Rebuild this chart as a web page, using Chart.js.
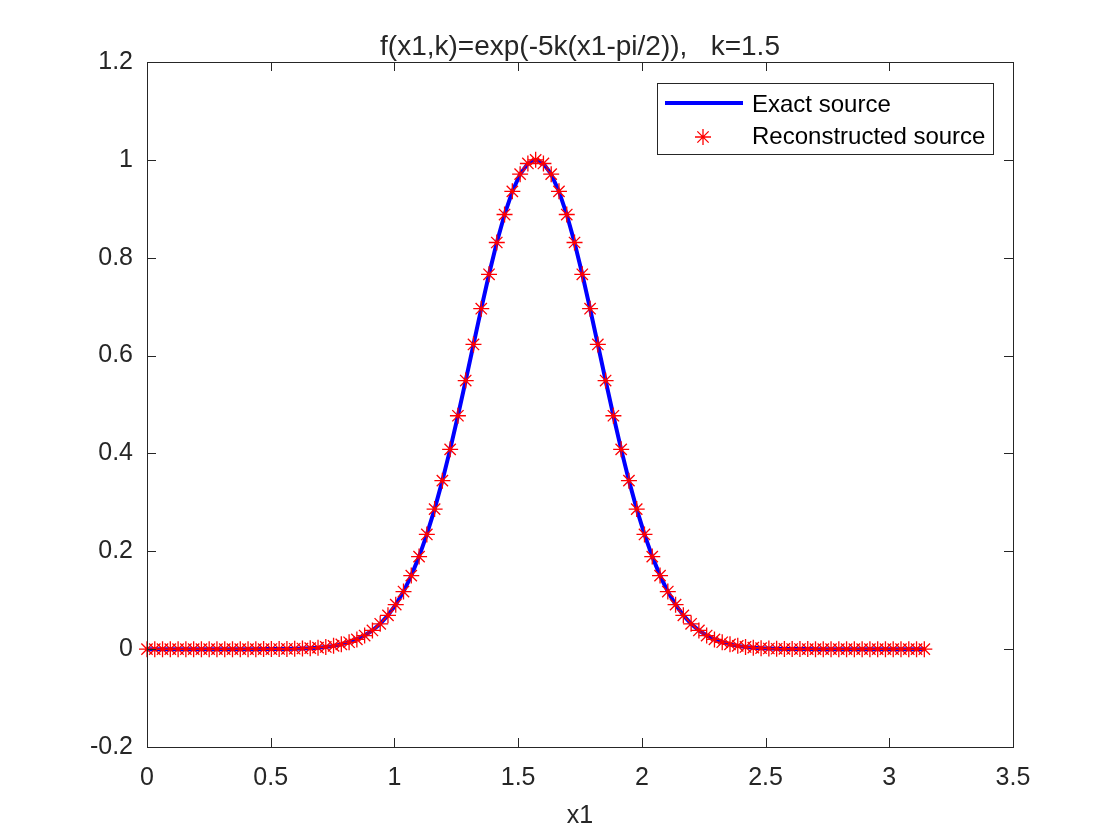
<!DOCTYPE html>
<html>
<head>
<meta charset="utf-8">
<script src="https://cdn.jsdelivr.net/npm/chart.js@4/dist/chart.umd.min.js"></script>
<style>
  html, body { margin: 0; padding: 0; background: #fff; }
  .chart_container { width: 1120px; height: 840px; }
</style>
</head>
<body>
<div class="chart_container"><canvas id="sourceChart"></canvas></div>
<script>
const titleText = "f(x1,k)=exp(-5k(x1-pi/2)),   k=1.5";

// x1 grid, 0..pi
const x1 = [
  0, 0.0314, 0.0628, 0.0942, 0.1257, 0.1571, 0.1885, 0.2199, 0.2513, 0.2827,
  0.3142, 0.3456, 0.3770, 0.4084, 0.4398, 0.4712, 0.5027, 0.5341, 0.5655, 0.5969,
  0.6283, 0.6597, 0.6912, 0.7226, 0.7540, 0.7854, 0.8168, 0.8482, 0.8796, 0.9111,
  0.9425, 0.9739, 1.0053, 1.0367, 1.0681, 1.0996, 1.1310, 1.1624, 1.1938, 1.2252,
  1.2566, 1.2881, 1.3195, 1.3509, 1.3823, 1.4137, 1.4451, 1.4765, 1.5080, 1.5394,
  1.5708, 1.6022, 1.6336, 1.6650, 1.6965, 1.7279, 1.7593, 1.7907, 1.8221, 1.8535,
  1.8850, 1.9164, 1.9478, 1.9792, 2.0106, 2.0420, 2.0735, 2.1049, 2.1363, 2.1677,
  2.1991, 2.2305, 2.2619, 2.2934, 2.3248, 2.3562, 2.3876, 2.4190, 2.4504, 2.4819,
  2.5133, 2.5447, 2.5761, 2.6075, 2.6389, 2.6704, 2.7018, 2.7332, 2.7646, 2.7960,
  2.8274, 2.8588, 2.8903, 2.9217, 2.9531, 2.9845, 3.0159, 3.0473, 3.0788, 3.1102,
  3.1416
];

const exactSource = [
  0, 0, 0, 0, 0, 0, 0, 0, 0, 0,
  0, 0, 0, 0, 0, 0.0001, 0.0002, 0.0003, 0.0005, 0.0008,
  0.0013, 0.0020, 0.0030, 0.0045, 0.0067, 0.0098, 0.0141, 0.0199, 0.0278, 0.0382,
  0.0518, 0.0691, 0.0909, 0.1177, 0.1503, 0.1891, 0.2344, 0.2862, 0.3444, 0.4083,
  0.4770, 0.5490, 0.6227, 0.6958, 0.7661, 0.8311, 0.8883, 0.9356, 0.9708, 0.9926,
  1,
  0.9926, 0.9708, 0.9356, 0.8883, 0.8311, 0.7661, 0.6958, 0.6227, 0.5490, 0.4770,
  0.4083, 0.3444, 0.2862, 0.2344, 0.1891, 0.1503, 0.1177, 0.0909, 0.0691, 0.0518,
  0.0382, 0.0278, 0.0199, 0.0141, 0.0098, 0.0067, 0.0045, 0.0030, 0.0020, 0.0013,
  0.0008, 0.0005, 0.0003, 0.0002, 0.0001, 0, 0, 0, 0, 0,
  0, 0, 0, 0, 0, 0, 0, 0, 0, 0
];

// reconstruction sits on the exact curve
const reconstructedSource = exactSource.slice();

const xTicks = [0, 0.5, 1, 1.5, 2, 2.5, 3, 3.5];
const yTicks = [-0.2, 0, 0.2, 0.4, 0.6, 0.8, 1, 1.2];

const fontFamily = "'Liberation Sans', Arial, Helvetica, sans-serif";
const axisColor = "#262626";

const toPoints = (xs, ys) => xs.map((x, i) => ({ x: x, y: ys[i] }));

// box, inward ticks, title and legend like a matlab figure
const matlabAxes = {
    id: "matlabAxes",
    afterDraw(chart) {
        const ctx = chart.ctx;
        const area = chart.chartArea;
        const xs = chart.scales.x;
        const ys = chart.scales.y;
        const tick = 9;

        ctx.save();
        ctx.strokeStyle = axisColor;
        ctx.lineWidth = 1;
        ctx.strokeRect(area.left + 0.5, area.top + 0.5, area.right - area.left, area.bottom - area.top);

        ctx.beginPath();
        xTicks.forEach((v) => {
            const px = Math.round(xs.getPixelForValue(v)) + 0.5;
            ctx.moveTo(px, area.bottom);
            ctx.lineTo(px, area.bottom - tick);
            ctx.moveTo(px, area.top);
            ctx.lineTo(px, area.top + tick);
        });
        yTicks.forEach((v) => {
            const py = Math.round(ys.getPixelForValue(v)) + 0.5;
            ctx.moveTo(area.left, py);
            ctx.lineTo(area.left + tick, py);
            ctx.moveTo(area.right, py);
            ctx.lineTo(area.right - tick, py);
        });
        ctx.stroke();

        // title
        ctx.fillStyle = axisColor;
        ctx.font = "28px " + fontFamily;
        ctx.textAlign = "center";
        ctx.textBaseline = "alphabetic";
        ctx.fillText(titleText, (area.left + area.right) / 2, 55);

        // legend
        const box = { left: 657, top: 83, right: 993, bottom: 154 };
        ctx.fillStyle = "#fff";
        ctx.fillRect(box.left, box.top, box.right - box.left, box.bottom - box.top);
        ctx.strokeStyle = axisColor;
        ctx.strokeRect(box.left + 0.5, box.top + 0.5, box.right - box.left, box.bottom - box.top);

        const ds = chart.data.datasets;
        const lineDs = ds[1];
        const markDs = ds[0];
        ctx.font = "24px " + fontFamily;
        ctx.textAlign = "left";
        ctx.textBaseline = "middle";

        ctx.strokeStyle = lineDs.borderColor;
        ctx.lineWidth = lineDs.borderWidth;
        ctx.beginPath();
        ctx.moveTo(665, 103);
        ctx.lineTo(743, 103);
        ctx.stroke();
        ctx.fillStyle = "#000";
        ctx.fillText(lineDs.label, 752, 105);

        ctx.strokeStyle = markDs.pointBorderColor;
        ctx.fillStyle = markDs.pointBackgroundColor;
        ctx.lineWidth = markDs.pointBorderWidth;
        Chart.helpers.drawPoint(ctx, {
            pointStyle: "star",
            radius: markDs.pointRadius,
            borderWidth: markDs.pointBorderWidth,
            rotation: 0
        }, 703, 137);
        ctx.fillStyle = "#000";
        ctx.fillText(markDs.label, 752, 137);
        ctx.restore();
    }
};

const data = {
    datasets: [
        {
            label: "Reconstructed source",
            data: toPoints(x1, reconstructedSource),
            showLine: false,
            pointStyle: "star",
            pointRadius: 8,
            pointBorderWidth: 1.3,
            pointBorderColor: "#ff0000",
            pointBackgroundColor: "#ff0000",
            clip: false,
            order: 0,
        },
        {
            label: "Exact source",
            data: toPoints(x1, exactSource),
            showLine: true,
            borderColor: "#0000ff",
            borderWidth: 4,
            pointRadius: 0,
            tension: 0,
            order: 1,
        },
    ],
};

const fmt = (v) => Number(v.toFixed(2)).toString();

const sourceChart = new Chart("sourceChart", {
    type: "scatter",
    data: data,
    plugins: [matlabAxes],
    options: {
        responsive: true,
        maintainAspectRatio: false,
        animation: false,
        layout: { padding: { top: 62, right: 107, left: 0, bottom: 0 } },
        plugins: {
            legend: { display: false },
            title: { display: false },
            tooltip: { enabled: false },
        },
        scales: {
            x: {
                type: "linear",
                min: 0,
                max: 3.5,
                afterFit: (scale) => { scale.height = 93; },
                grid: { display: false, drawTicks: false },
                border: { display: false },
                ticks: {
                    stepSize: 0.5,
                    padding: 16,
                    color: axisColor,
                    font: { family: fontFamily, size: 25 },
                    maxRotation: 0,
                    callback: fmt,
                },
                title: {
                    display: true,
                    text: "x1",
                    color: axisColor,
                    font: { family: fontFamily, size: 25 },
                    padding: { top: 9, bottom: 9 },
                },
            },
            y: {
                type: "linear",
                min: -0.2,
                max: 1.2,
                afterFit: (scale) => { scale.width = 147; },
                grid: { display: false, drawTicks: false },
                border: { display: false },
                ticks: {
                    stepSize: 0.2,
                    padding: 14,
                    color: axisColor,
                    font: { family: fontFamily, size: 25 },
                    callback: fmt,
                },
            },
        },
    },
});
</script>
</body>
</html>
